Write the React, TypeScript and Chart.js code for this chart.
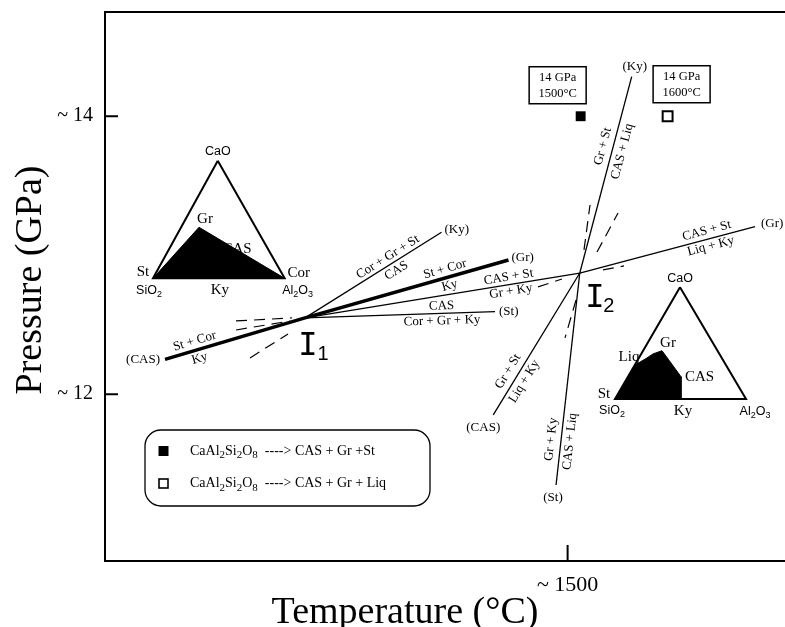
import React, { useEffect, useRef } from 'react';
import { Chart, registerables } from 'chart.js';

Chart.register(...registerables);

const SERIF = '"Liberation Serif", "Times New Roman", serif';
const SANS = '"Liberation Sans", Arial, sans-serif';
const MONO = '"DejaVu Sans Mono", monospace';

// ---- axes ----
const xRange = [968, 1750];
const yRange = [10.8, 14.75];
const xTicks = [1500];
const xTickLabels = ['~ 1500'];
const yTicks = [12, 14];
const yTickLabels = ['~ 12', '~ 14'];

// ---- invariant points ----
const I1 = { x: 1198, y: 12.549 };
const I2 = { x: 1514, y: 12.872 };

// ---- univariant line ends ----
const endCasI1 = { x: 1037, y: 12.251 };
const endGrI1 = { x: 1432, y: 12.966 };
const endKyI1 = { x: 1355, y: 13.165 };
const endStI1 = { x: 1416.5, y: 12.594 };
const endKyI2 = { x: 1573.7, y: 14.285 };
const endGrI2 = { x: 1715.5, y: 13.205 };
const endCasI2 = { x: 1414.5, y: 11.851 };
const endStI2 = { x: 1486.7, y: 11.347 };

const thickReaction = [endCasI1, I1, endGrI1];
const thinLines = [
  [I1, endKyI1],
  [I1, endStI1],
  [I1, I2],
  [I2, endKyI2],
  [I2, endGrI2],
  [endCasI2, I2],
  [endStI2, I2],
];

// metastable extensions
const dashedLines = [
  [{ x: 1134.75, y: 12.261 }, { x: 1178.5, y: 12.433 }],
  [{ x: 1118.65, y: 12.527 }, { x: 1183, y: 12.549 }],
  [{ x: 1118.65, y: 12.462 }, { x: 1180.75, y: 12.527 }],
  [{ x: 1518.85, y: 13.038 }, { x: 1525.75, y: 13.3615 }],
  [{ x: 1533.8, y: 13.023 }, { x: 1558, y: 13.304 }],
  [{ x: 1466, y: 12.772 }, { x: 1493.5, y: 12.829 }],
  [{ x: 1540.7, y: 12.894 }, { x: 1564.85, y: 12.923 }],
  [{ x: 1509.65, y: 12.678 }, { x: 1497, y: 12.405 }],
];

// ---- ternary diagrams ----
const topCaO = { x: 1097.7, y: 13.68 };
const topSiO2 = { x: 1023.2, y: 12.834 };
const topAl2O3 = { x: 1174.6, y: 12.834 };
const topGr = { x: 1076.1, y: 13.201 };
const topCAS = { x: 1120.95, y: 13.035 };
const topKy = { x: 1098.9, y: 12.834 };
const topTriangle = [topCaO, topSiO2, topAl2O3, topCaO];
const topField = [topSiO2, topGr, topAl2O3, topSiO2];

const botCaO = { x: 1629.25, y: 12.769 };
const botSiO2 = { x: 1554.5, y: 11.966 };
const botAl2O3 = { x: 1705.15, y: 11.966 };
const botLiq = { x: 1577.5, y: 12.21 };
const botGr = { x: 1608.55, y: 12.313 };
const botCAS = { x: 1630.4, y: 12.126 };
const botKy = { x: 1630.4, y: 11.966 };
const botTriangle = [botCaO, botSiO2, botAl2O3, botCaO];
const botField = [botSiO2, botLiq, { x: 1591.3, y: 12.261 }, { x: 1598.2, y: 12.29 }, botGr, botCAS, botKy, botSiO2];

// ---- experiments ----
const expTemps = [1515, 1615];
const expPressures = [14, 14];
const expBoxes = [['14 GPa', '1500°C'], ['14 GPa', '1600°C']];
const legendTexts = ['CaAl_2Si_2O_8  ----> CAS + Gr +St', 'CaAl_2Si_2O_8  ----> CAS + Gr + Liq'];

// ---- annotations ----
const lineLabels = [
  { from: endCasI1, to: I1, t: 0.23, above: 'St + Cor', below: 'Ky', ga: 9, gb: 9 },
  { from: I1, to: endGrI1, t: 0.7, above: 'St + Cor', below: 'Ky', ga: 8.5, gb: 8.5 },
  { from: I1, to: endKyI1, t: 0.636, above: 'Cor + Gr + St', below: 'CAS', ga: 7.5, gb: 8.5 },
  { from: I1, to: endStI1, t: 0.72, above: 'CAS', below: 'Cor + Gr + Ky', ga: 7.5, gb: 7.5 },
  { from: I1, to: I2, t: 0.745, above: 'CAS + St', below: 'Gr + Ky', ga: 7.5, gb: 7 },
  { from: I2, to: endGrI2, t: 0.737, above: 'CAS + St', below: 'Liq + Ky', ga: 8.5, gb: 7.5 },
  { from: I2, to: endKyI2, t: 0.632, above: 'Gr + St', below: 'CAS + Liq', ga: 10, gb: 10 },
  { from: endCasI2, to: I2, t: 0.27, above: 'Gr + St', below: 'Liq + Ky', ga: 10, gb: 9 },
  { from: endStI2, to: I2, t: 0.21, above: 'Gr + Ky', below: 'CAS + Liq', ga: 10, gb: 9 },
];

const endLabels = [
  { at: endCasI1, text: '(CAS)', dx: -5, dy: 0, align: 'right' },
  { at: endGrI1, text: '(Gr)', dx: 3, dy: -2, align: 'left' },
  { at: endKyI1, text: '(Ky)', dx: 3, dy: -3, align: 'left' },
  { at: endStI1, text: '(St)', dx: 4, dy: 0, align: 'left' },
  { at: endKyI2, text: '(Ky)', dx: 3, dy: -10, align: 'center' },
  { at: endGrI2, text: '(Gr)', dx: 6, dy: -3, align: 'left' },
  { at: endCasI2, text: '(CAS)', dx: -10, dy: 13, align: 'center' },
  { at: endStI2, text: '(St)', dx: -3, dy: 13, align: 'center' },
];

const ternaryLabels = [
  { at: topCaO, text: 'CaO', dx: 0, dy: -9, sans: true },
  { at: topGr, text: 'Gr', dx: 6, dy: -8 },
  { at: topCAS, text: 'CAS', dx: -1, dy: -1 },
  { at: topSiO2, text: 'St', dx: -10, dy: -6 },
  { at: topSiO2, text: 'SiO_2', dx: -4, dy: 12, sans: true },
  { at: topKy, text: 'Ky', dx: 1, dy: 12 },
  { at: topAl2O3, text: 'Cor', dx: 14, dy: -5 },
  { at: topAl2O3, text: 'Al_2O_3', dx: 13, dy: 12, sans: true },
  { at: botCaO, text: 'CaO', dx: 0, dy: -9, sans: true },
  { at: botGr, text: 'Gr', dx: 6, dy: -8 },
  { at: botLiq, text: 'Liq', dx: -6, dy: -8 },
  { at: botCAS, text: 'CAS', dx: 4, dy: 0, align: 'left' },
  { at: botSiO2, text: 'St', dx: -11, dy: -5 },
  { at: botSiO2, text: 'SiO_2', dx: -3, dy: 12, sans: true },
  { at: botKy, text: 'Ky', dx: 2, dy: 12 },
  { at: botAl2O3, text: 'Al_2O_3', dx: 9, dy: 13, sans: true },
];

const invariantLabels = [
  { at: I1, main: 'I', sub: '1', dx: 3, dy: 29, sdx: 18, sdy: 37 },
  { at: I2, main: 'I', sub: '2', dx: 15, dy: 26, sdx: 29, sdy: 33 },
];

function richParts(s: string) {
  const parts: { t: string; sub: boolean }[] = [];
  let buf = '';
  for (let i = 0; i < s.length; i++) {
    if (s[i] === '_' && i + 1 < s.length) {
      if (buf) parts.push({ t: buf, sub: false });
      buf = '';
      parts.push({ t: s[i + 1], sub: true });
      i++;
    } else buf += s[i];
  }
  if (buf) parts.push({ t: buf, sub: false });
  return parts;
}

function drawRich(ctx: CanvasRenderingContext2D, s: string, x: number, y: number, size: number, family: string, align = 'center') {
  const parts = richParts(s);
  const sub = Math.round(size * 0.75);
  const widths = parts.map((p) => {
    ctx.font = `${p.sub ? sub : size}px ${family}`;
    return ctx.measureText(p.t).width;
  });
  const total = widths.reduce((a, b) => a + b, 0);
  let cx = align === 'center' ? x - total / 2 : align === 'right' ? x - total : x;
  ctx.textAlign = 'left';
  ctx.textBaseline = 'middle';
  parts.forEach((p, i) => {
    ctx.font = `${p.sub ? sub : size}px ${family}`;
    ctx.fillText(p.t, cx, p.sub ? y + size * 0.3 : y);
    cx += widths[i];
  });
}

const annotate = {
  id: 'annotate',
  afterDatasetsDraw(chart: any) {
    const ctx: CanvasRenderingContext2D = chart.ctx;
    const sx = chart.scales.x;
    const sy = chart.scales.y;
    const P = (p: { x: number; y: number }) => ({ x: sx.getPixelForValue(p.x), y: sy.getPixelForValue(p.y) });
    const area = chart.chartArea;
    ctx.save();
    ctx.fillStyle = '#000';
    ctx.strokeStyle = '#000';

    // top frame line and inward ticks
    ctx.lineWidth = 2;
    ctx.beginPath();
    ctx.moveTo(area.left - 1, area.top);
    ctx.lineTo(area.right, area.top);
    yTicks.forEach((v) => {
      const y = sy.getPixelForValue(v);
      ctx.moveTo(area.left, y);
      ctx.lineTo(area.left + 13, y);
    });
    xTicks.forEach((v) => {
      const x = sx.getPixelForValue(v);
      ctx.moveTo(x, area.bottom);
      ctx.lineTo(x, area.bottom - 16);
    });
    ctx.stroke();

    // line labels
    lineLabels.forEach((l) => {
      const a = P(l.from);
      const b = P(l.to);
      let ang = Math.atan2(b.y - a.y, b.x - a.x);
      if (ang > Math.PI / 2) ang -= Math.PI;
      if (ang < -Math.PI / 2) ang += Math.PI;
      const x = a.x + (b.x - a.x) * l.t;
      const y = a.y + (b.y - a.y) * l.t;
      ctx.save();
      ctx.translate(x, y);
      ctx.rotate(ang);
      ctx.font = `13px ${SERIF}`;
      ctx.textAlign = 'center';
      ctx.textBaseline = 'middle';
      ctx.fillText(l.above, 0, -l.ga);
      ctx.fillText(l.below, 0, l.gb);
      ctx.restore();
    });

    // end labels
    ctx.font = `13px ${SERIF}`;
    ctx.textBaseline = 'middle';
    endLabels.forEach((l) => {
      const p = P(l.at);
      ctx.textAlign = l.align as CanvasTextAlign;
      ctx.fillText(l.text, p.x + l.dx, p.y + l.dy);
    });

    // ternary labels
    ternaryLabels.forEach((l) => {
      const p = P(l.at);
      drawRich(ctx, l.text, p.x + l.dx, p.y + l.dy, l.sans ? 12.5 : 15, l.sans ? SANS : SERIF, l.align || 'center');
    });

    // invariant point labels
    invariantLabels.forEach((l) => {
      const p = P(l.at);
      ctx.textAlign = 'center';
      ctx.textBaseline = 'middle';
      ctx.font = `32px ${MONO}`;
      ctx.fillText(l.main, p.x + l.dx, p.y + l.dy);
      ctx.font = `20px ${SANS}`;
      ctx.fillText(l.sub, p.x + l.sdx, p.y + l.sdy);
    });

    // experiment boxes
    const boxOffsets = [[-23, -31], [14, -32]];
    expTemps.forEach((t, i) => {
      const p = P({ x: t, y: expPressures[i] });
      const cx = p.x + boxOffsets[i][0];
      const cy = p.y + boxOffsets[i][1];
      ctx.lineWidth = 1.5;
      ctx.fillStyle = '#fff';
      ctx.fillRect(cx - 28.5, cy - 18.5, 57, 37);
      ctx.strokeRect(cx - 28.5, cy - 18.5, 57, 37);
      ctx.fillStyle = '#000';
      ctx.font = `12.5px ${SERIF}`;
      ctx.textAlign = 'center';
      ctx.textBaseline = 'middle';
      ctx.fillText(expBoxes[i][0], cx, cy - 8);
      ctx.fillText(expBoxes[i][1], cx, cy + 8);
    });

    // legend
    const lx = 145, ly = 430, lw = 285, lh = 76, r = 16;
    ctx.lineWidth = 1.3;
    ctx.beginPath();
    ctx.roundRect(lx, ly, lw, lh, r);
    ctx.stroke();
    legendTexts.forEach((txt, i) => {
      const y = 451 + i * 32.5;
      if (i === 0) {
        ctx.fillRect(158.5, y - 5, 10, 10);
      } else {
        ctx.lineWidth = 1.6;
        ctx.strokeRect(159, y - 4.5, 9, 9);
      }
      drawRich(ctx, txt, 190, y, 14, SERIF, 'left');
    });

    // axis titles
    ctx.fillStyle = '#000';
    ctx.font = `38px ${SERIF}`;
    ctx.textAlign = 'center';
    ctx.textBaseline = 'alphabetic';
    ctx.fillText('Temperature (°C)', 405, 623);
    ctx.save();
    ctx.translate(41, 280);
    ctx.rotate(-Math.PI / 2);
    ctx.fillText('Pressure (GPa)', 0, 0);
    ctx.restore();

    ctx.restore();
  },
};

const noPad = (s: any) => {
  s.paddingTop = 0;
  s.paddingBottom = 0;
  s.paddingLeft = 0;
  s.paddingRight = 0;
};

export default function App() {
  const ref = useRef<HTMLCanvasElement | null>(null);
  useEffect(() => {
    if (!ref.current) return;
    const line = (data: any[], width: number, dash: number[] = []) => ({
      type: 'scatter',
      data,
      showLine: true,
      borderColor: '#000',
      borderWidth: width,
      borderDash: dash,
      pointRadius: 0,
      fill: false,
    });
    const datasets: any[] = [
      { ...line(topField, 1), fill: 'shape', backgroundColor: '#000' },
      { ...line(botField, 1), fill: 'shape', backgroundColor: '#000' },
      line(topTriangle, 2),
      line(botTriangle, 2),
      line(thickReaction, 3.5),
      ...thinLines.map((d) => line(d, 1.3)),
      ...dashedLines.map((d) => line(d, 1.2, [11, 7])),
      {
        type: 'scatter',
        data: expTemps.map((x, i) => ({ x, y: expPressures[i] })),
        showLine: false,
        pointStyle: 'rect',
        pointRadius: 7,
        pointBackgroundColor: ['#000', '#fff'],
        pointBorderColor: '#000',
        pointBorderWidth: [0, 2],
      },
    ];
    const chart = new Chart(ref.current, {
      type: 'scatter',
      data: { datasets },
      options: {
        responsive: false,
        animation: false,
        devicePixelRatio: 1,
        layout: { autoPadding: false, padding: { top: 12, right: 0, left: 0, bottom: 0 } },
        plugins: { legend: { display: false }, tooltip: { enabled: false } },
        scales: {
          x: {
            type: 'linear',
            min: xRange[0],
            max: xRange[1],
            afterBuildTicks: (s: any) => {
              s.ticks = xTicks.map((v) => ({ value: v }));
            },
            afterFit: (s: any) => {
              s.height = 66;
              noPad(s);
            },
            grid: { display: false, drawTicks: false },
            border: { display: true, color: '#000', width: 2 },
            ticks: {
              autoSkip: false,
              maxRotation: 0,
              padding: 11,
              color: '#000',
              font: { family: SERIF, size: 22 },
              callback: (v: any) => xTickLabels[xTicks.indexOf(v)] ?? '',
            },
          },
          y: {
            type: 'linear',
            min: yRange[0],
            max: yRange[1],
            afterBuildTicks: (s: any) => {
              s.ticks = yTicks.map((v) => ({ value: v }));
            },
            afterFit: (s: any) => {
              s.width = 105;
              noPad(s);
            },
            grid: { display: false, drawTicks: false },
            border: { display: true, color: '#000', width: 2 },
            ticks: {
              autoSkip: false,
              padding: 12,
              color: '#000',
              font: { family: SERIF, size: 20 },
              callback: (v: any) => yTickLabels[yTicks.indexOf(v)] ?? '',
            },
          },
        },
      } as any,
      plugins: [annotate],
    } as any);
    return () => chart.destroy();
  }, []);
  return (
    <div style={{ position: 'absolute', left: 0, top: 0, width: 785, height: 627, background: '#fff' }}>
      <canvas ref={ref} width={785} height={627} style={{ display: 'block' }} />
    </div>
  );
}
